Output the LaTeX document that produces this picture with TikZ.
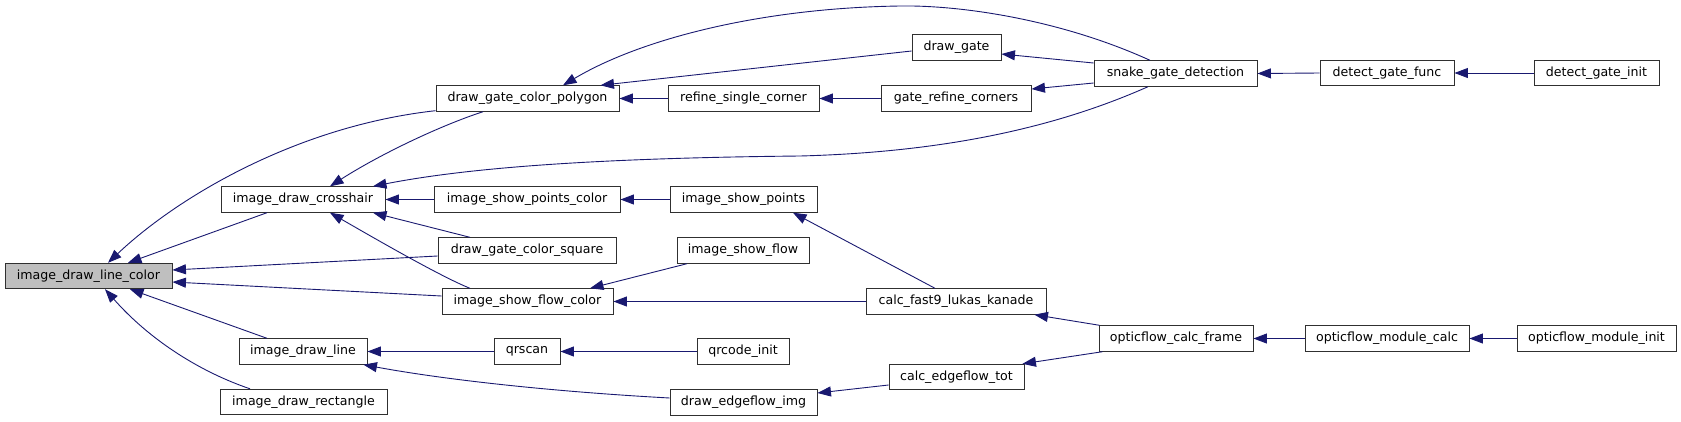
\documentclass[tikz,border=0pt]{standalone}
\usepackage{fontspec}
\setmainfont{DejaVu Sans}
\usetikzlibrary{arrows.meta,calc}
\definecolor{edgeblue}{HTML}{191970}
\definecolor{boxline}{HTML}{303030}
\begin{document}
\begin{tikzpicture}[x=1pt,y=-1pt,
  fn/.style={draw=boxline,line width=0.9pt,fill=white,minimum height=25.5pt,inner sep=0pt,
    font=\fontsize{12.6}{15}\selectfont,anchor=center},
  cur/.style={fn,fill=black!25},
  edge/.style={draw=edgeblue,line width=0.9pt,-{Triangle[length=13.5pt,width=10pt]}}]
\useasboundingbox (0,0) rectangle (1681,421);
% nodes
\node[cur,minimum width=167pt] (lc) at (88.5,276) {image\_draw\_line\_color};
\node[fn,minimum width=164pt] (cross) at (303,199.5) {image\_draw\_crosshair};
\node[fn,minimum width=128pt] (line) at (303,351.5) {image\_draw\_line};
\node[fn,minimum width=167pt] (rect) at (303.5,402) {image\_draw\_rectangle};
\node[fn,minimum width=183pt] (poly) at (527.5,98.5) {draw\_gate\_color\_polygon};
\node[fn,minimum width=151pt] (refine) at (743.5,98.5) {refine\_single\_corner};
\node[fn,minimum width=186pt] (ptsc) at (527,199.5) {image\_show\_points\_color};
\node[fn,minimum width=147pt] (pts) at (743.5,199.5) {image\_show\_points};
\node[fn,minimum width=178pt] (square) at (527,250.5) {draw\_gate\_color\_square};
\node[fn,minimum width=132pt] (flow) at (743,250.5) {image\_show\_flow};
\node[fn,minimum width=171pt] (flowc) at (527.5,301.5) {image\_show\_flow\_color};
\node[fn,minimum width=66pt] (qrscan) at (527,351.5) {qrscan};
\node[fn,minimum width=92pt] (qrinit) at (743,351.5) {qrcode\_init};
\node[fn,minimum width=147pt] (efimg) at (743.5,402.5) {draw\_edgeflow\_img};
\node[fn,minimum width=89pt] (dgate) at (956.5,47.5) {draw\_gate};
\node[fn,minimum width=163pt] (snake) at (1175.5,73.5) {snake\_gate\_detection};
\node[fn,minimum width=150pt] (grc) at (956,98.5) {gate\_refine\_corners};
\node[fn,minimum width=180pt] (fast9) at (956,301.5) {calc\_fast9\_lukas\_kanade};
\node[fn,minimum width=154pt] (cframe) at (1176,338.5) {opticflow\_calc\_frame};
\node[fn,minimum width=135pt] (eftot) at (956.5,377) {calc\_edgeflow\_tot};
\node[fn,minimum width=134pt] (dgf) at (1387,73) {detect\_gate\_func};
\node[fn,minimum width=125pt] (dgi) at (1596.5,73) {detect\_gate\_init};
\node[fn,minimum width=164pt] (mcalc) at (1387,338.5) {opticflow\_module\_calc};
\node[fn,minimum width=159pt] (minit) at (1596.5,338.5) {opticflow\_module\_init};
% edges into image_draw_line_color
\draw[edge] ([xshift=-36pt]cross.south) -- ([xshift=39.5pt]lc.north);
\draw[edge] ([yshift=1pt]poly.south west) .. controls +(-136,15) and +(72,-68) .. ([xshift=19.5pt]lc.north);
\draw[edge] ([yshift=-5.5pt]square.west) -- ([yshift=6pt]lc.east);
\draw[edge] ([yshift=5.5pt]flowc.west) -- ([yshift=-6pt]lc.east);
\draw[edge] ([xshift=-36pt]line.north) -- ([xshift=41.5pt]lc.south);
\draw[edge] ([xshift=-53.5pt]rect.north) .. controls +(-50,-17) and +(45,51) .. ([xshift=16.5pt]lc.south);
% edges into image_draw_crosshair
\draw[edge] ([xshift=-44.5pt]poly.south) .. controls +(-43,14) and +(50,-32) .. ([xshift=27pt]cross.north);
\coordinate (m1) at (800,156);
\draw[edge] ([xshift=-27.5pt]snake.south) .. controls +(-88,39) and +(150,-4) .. (m1)
  .. controls +(-200,2) and +(97,-19) .. ([xshift=70pt]cross.north);
\draw[edge] (ptsc.west) -- (cross.east);
\draw[edge] ([xshift=-57pt]square.north) -- ([xshift=70pt]cross.south);
\draw[edge] ([xshift=-57.5pt]flowc.north) .. controls +(-30,-12) and +(40,23) .. ([xshift=27pt]cross.south);
% edges into draw_gate_color_polygon
\coordinate (m2) at (900,6);
\draw[edge] ([xshift=-25.5pt]snake.north) .. controls +(-90,-41) and +(60,-1) .. (m2)
  .. controls +(-140,2) and +(77,-46) .. ([xshift=35.5pt]poly.north);
\draw[edge] ([yshift=-3.5pt]dgate.west) -- ([xshift=-19pt]poly.north east);
\draw[edge] (refine.west) -- (poly.east);
\draw[edge] (grc.west) -- (refine.east);
\draw[edge] ([yshift=10.5pt]snake.west) -- ([yshift=-6.5pt]dgate.east);
\draw[edge] ([yshift=-9.5pt]snake.west) -- ([yshift=9.5pt]grc.east);
\draw[edge] (dgf.west) -- (snake.east);
\draw[edge] (dgi.west) -- (dgf.east);
% points / flow
\draw[edge] (pts.west) -- (ptsc.east);
\draw[edge] ([xshift=-21pt]fast9.north) -- ([xshift=49.5pt]pts.south);
\draw[edge] ([xshift=-56pt]flow.south) -- ([xshift=62.5pt]flowc.north);
\draw[edge] (fast9.west) -- (flowc.east);
\draw[edge] ([xshift=1pt]cframe.north west) -- ([xshift=-12pt]fast9.south east);
\draw[edge] ([xshift=4pt]cframe.south west) -- ([xshift=-2pt]eftot.north east);
\draw[edge] (mcalc.west) -- (cframe.east);
\draw[edge] (minit.west) -- (mcalc.east);
% line
\draw[edge] (qrscan.west) -- (line.east);
\draw[edge] (qrinit.west) -- (qrscan.east);
\draw[edge] ([yshift=4.5pt]efimg.west) .. controls +(-110,-6) and +(87,16) .. ([xshift=-4pt]line.south east);
\draw[edge] ([yshift=-8pt]eftot.west) -- ([yshift=9.5pt]efimg.east);
\end{tikzpicture}
\end{document}
